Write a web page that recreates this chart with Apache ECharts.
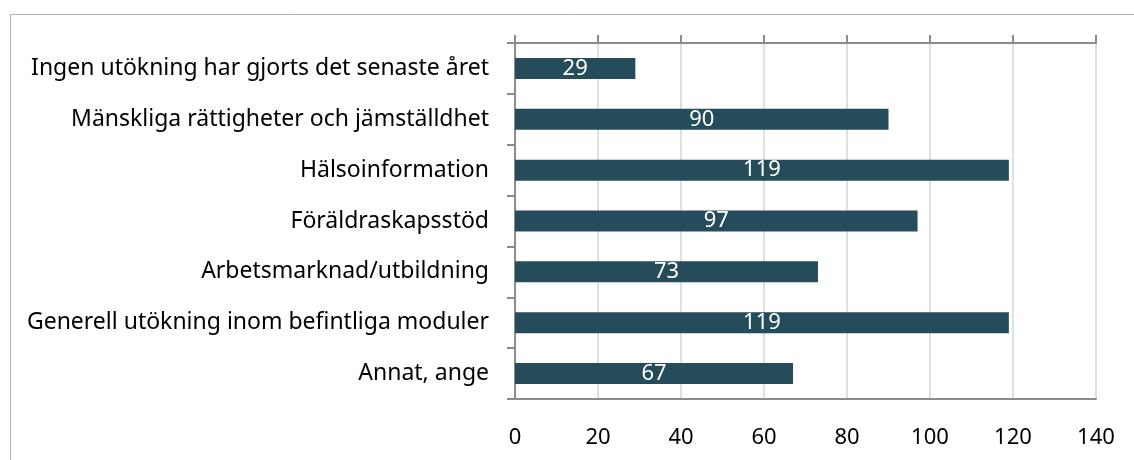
<!DOCTYPE html>
<html>
<head>
<meta charset="utf-8">
<script src="https://cdn.jsdelivr.net/npm/echarts@6/dist/echarts.min.js"></script>
<style>
  html, body { margin: 0; padding: 0; background: #fff; }
  #chart { width: 1134px; height: 460px; }
</style>
</head>
<body>
<div id="chart"></div>
<script>
// Utökning av moduler - liggande stapeldiagram
var categories = [
  'Ingen utökning har gjorts det senaste året',
  'Mänskliga rättigheter och jämställdhet',
  'Hälsoinformation',
  'Föräldraskapsstöd',
  'Arbetsmarknad/utbildning',
  'Generell utökning inom befintliga moduler',
  'Annat, ange'
];
var values = [29, 90, 119, 97, 73, 119, 67];
var axisMin = 0;
var axisMax = 140;
var axisStep = 20;

(function () {
  var font = '"Noto Sans", "Liberation Sans", sans-serif';
  var frame = '#8c8c8c';
  var chart = echarts.init(document.getElementById('chart'), null, { renderer: 'canvas' });
  chart.setOption({
    animation: false,
    textStyle: { fontFamily: font },
    graphic: [
      { type: 'rect', silent: true, z: -10, shape: { x: 10.5, y: 14.5, width: 1300, height: 600 },
        style: { fill: 'none', stroke: '#b4b4b4', lineWidth: 1 } }
    ],
    grid: { left: 515, right: 38, top: 43, bottom: 61 },
    xAxis: [
      {
        type: 'value', position: 'top', min: axisMin, max: axisMax, interval: axisStep,
        axisLine: { show: true, lineStyle: { color: frame, width: 2 } },
        axisTick: { show: true, length: 8, lineStyle: { color: frame, width: 2 } },
        axisLabel: { show: false },
        splitLine: { show: true, lineStyle: { color: '#e0e0e0', width: 2 } }
      },
      {
        type: 'value', position: 'bottom', min: axisMin, max: axisMax, interval: axisStep,
        axisLine: { show: true, lineStyle: { color: frame, width: 2 } },
        axisTick: { show: false },
        axisLabel: { color: '#000', fontSize: 22, margin: 28, fontFamily: font },
        splitLine: { show: false }
      }
    ],
    yAxis: [
      {
        type: 'category', data: categories, inverse: true, position: 'left',
        axisLine: { show: true, lineStyle: { color: frame, width: 2 } },
        axisTick: { show: true, length: 8, lineStyle: { color: frame, width: 2 } },
        axisLabel: { color: '#000', fontSize: 23, margin: 26, fontFamily: font }
      },
      {
        type: 'category', data: categories, inverse: true, position: 'right',
        axisLine: { show: true, lineStyle: { color: frame, width: 2 } },
        axisTick: { show: false },
        axisLabel: { show: false }
      }
    ],
    series: [{
      type: 'bar', data: values, xAxisIndex: 0, yAxisIndex: 0, barWidth: 21,
      itemStyle: { color: '#244c5a' },
      label: { show: true, position: 'inside', color: '#fff', fontSize: 22, fontFamily: font }
    }]
  });
})();
</script>
</body>
</html>
